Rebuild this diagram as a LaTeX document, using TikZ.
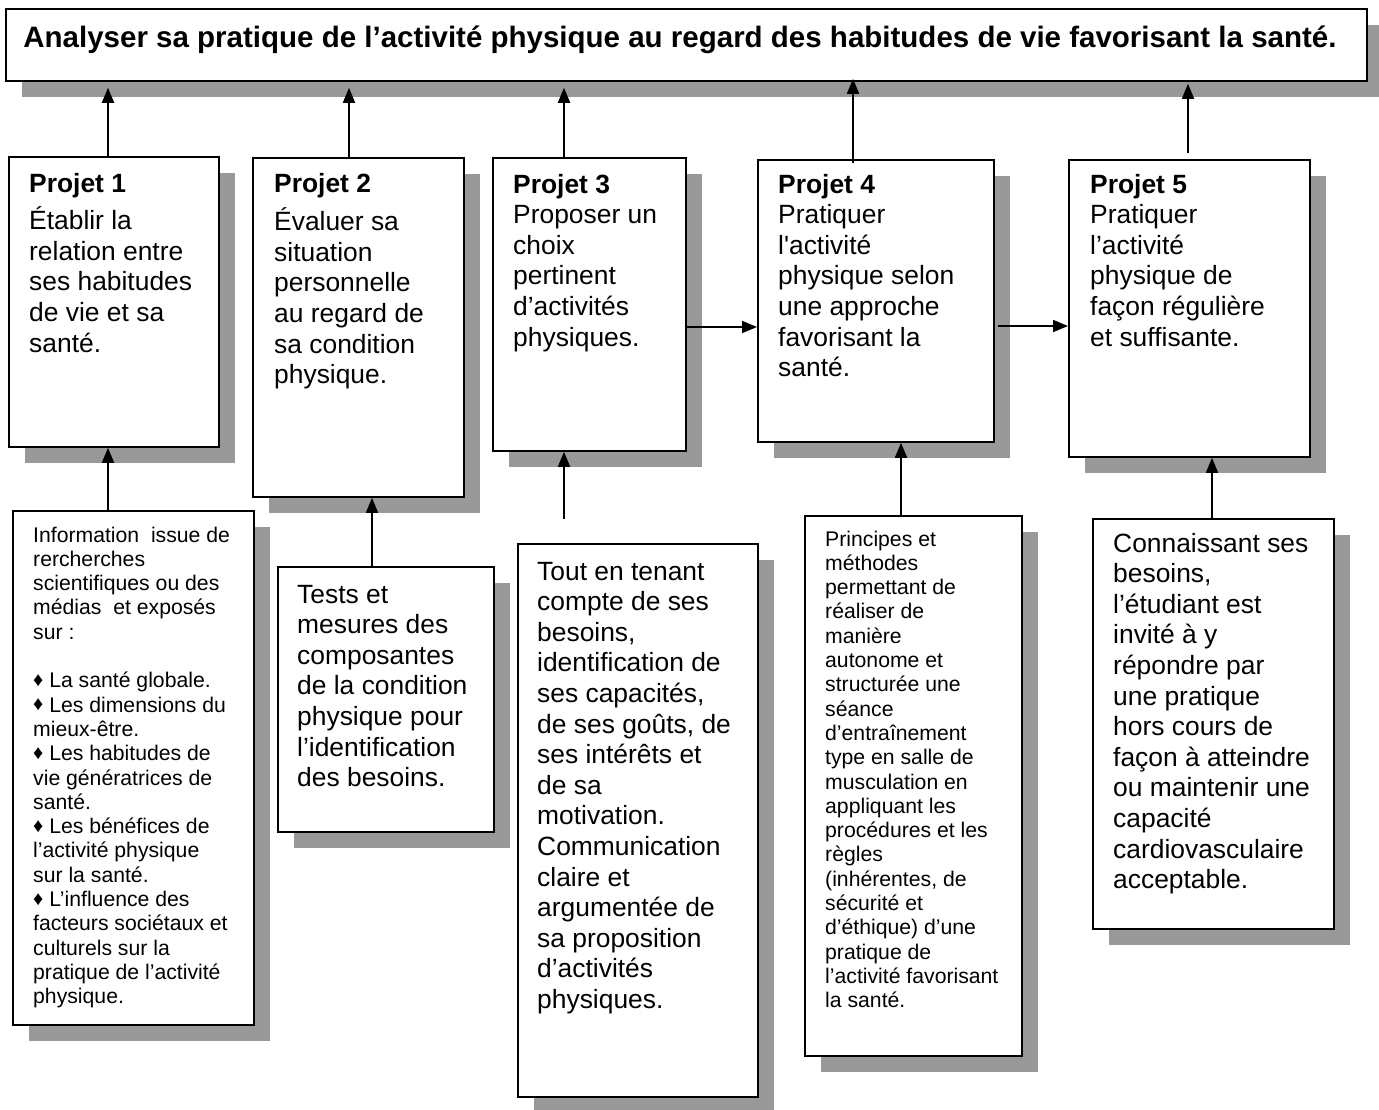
\documentclass[tikz,border=0pt]{standalone}
\usepackage{fontspec}
\setmainfont{Liberation Sans}
\usetikzlibrary{arrows.meta,shadows,calc}
\definecolor{shadowc}{RGB}{153,153,153}
\newcommand\LgFont{\fontsize{26.4pt}{30.6pt}\selectfont}
\newcommand\SmFont{\fontsize{21.2pt}{24.3pt}\selectfont}
\newcommand\dmd{\raisebox{1.5pt}{\fontsize{20pt}{20pt}\selectfont ♦}}
\begin{document}
\begin{tikzpicture}[x=1pt,y=-1pt,
  boxs/.style={draw, line width=1.8pt, fill=white, inner sep=0pt, anchor=north west,
    drop shadow={shadow xshift=16.5pt, shadow yshift=-16.5pt, fill=shadowc, opacity=1}},
  txt/.style={anchor=base west, inner sep=0pt},
  arr/.style={line width=1.8pt, -{Triangle[length=15pt,width=12pt]}}]
\useasboundingbox[fill=white] (0,0) rectangle (1379,1109);

% boxes
\node[boxs, minimum width=1361pt, minimum height=72pt] (title) at (5,8) {};
\node[boxs, minimum width=210pt, minimum height=290pt] (p1) at (8,156) {};
\node[boxs, minimum width=211pt, minimum height=339pt] (p2) at (252,157) {};
\node[boxs, minimum width=193pt, minimum height=293pt] (p3) at (492,157) {};
\node[boxs, minimum width=236pt, minimum height=282pt] (p4) at (757,159) {};
\node[boxs, minimum width=241pt, minimum height=297pt] (p5) at (1068,159) {};
\node[boxs, minimum width=241pt, minimum height=514pt] (b1) at (12,510) {};
\node[boxs, minimum width=216pt, minimum height=265pt] (b2) at (277,566) {};
\node[boxs, minimum width=240pt, minimum height=553pt] (b3) at (517,543) {};
\node[boxs, minimum width=217pt, minimum height=540pt] (b4) at (804,515) {};
\node[boxs, minimum width=241pt, minimum height=410pt] (b5) at (1092,518) {};

% texts
\node[anchor=base, inner sep=0pt] (tt) at (680,47)
  {\fontsize{29.5pt}{32pt}\selectfont\bfseries Analyser sa pratique de l’activité physique au regard des habitudes de vie favorisant la santé.};

\node[txt] (t1) at (29,192) {\parbox[t]{300pt}{\LgFont\textbf{Projet 1}\\[7pt]Établir la\\relation entre\\ses habitudes\\de vie et sa\\santé.}};
\node[txt] (t2) at (274,192) {\parbox[t]{300pt}{\LgFont\textbf{Projet 2}\\[8pt]Évaluer sa\\situation\\personnelle\\au regard de\\sa condition\\physique.}};
\node[txt] (t3) at (513,193) {\parbox[t]{300pt}{\LgFont\textbf{Projet 3}\\Proposer un\\choix\\pertinent\\d’activités\\physiques.}};
\node[txt] (t4) at (778,193) {\parbox[t]{300pt}{\LgFont\textbf{Projet 4}\\Pratiquer\\l\textquotesingle activité\\physique selon\\une approche\\favorisant la\\santé.}};
\node[txt] (t5) at (1090,193) {\parbox[t]{300pt}{\LgFont\textbf{Projet 5}\\Pratiquer\\l’activité\\physique de\\façon régulière\\et suffisante.}};

\node[txt] (s1) at (33,542) {\parbox[t]{300pt}{\SmFont Information\ \ issue de\\rercherches\\scientifiques ou des\\médias\ \ et exposés\\sur :\\\mbox{}\\\dmd\ La santé globale.\\\dmd\ Les dimensions du\\mieux-être.\\\dmd\ Les habitudes de\\vie génératrices de\\santé.\\\dmd\ Les bénéfices de\\l’activité physique\\sur la santé.\\\dmd\ L’influence des\\facteurs sociétaux et\\culturels sur la\\pratique de l’activité\\physique.}};
\node[txt] (s2) at (297,603) {\parbox[t]{300pt}{\LgFont Tests et\\mesures des\\composantes\\de la condition\\physique pour\\l’identification\\des besoins.}};
\node[txt] (s3) at (537,580) {\parbox[t]{300pt}{\LgFont Tout en tenant\\compte de ses\\besoins,\\identification de\\ses capacités,\\de ses goûts, de\\ses intérêts et\\de sa\\motivation.\\Communication\\claire et\\argumentée de\\sa proposition\\d’activités\\physiques.}};
\node[txt] (s4) at (825,546) {\parbox[t]{300pt}{\SmFont Principes et\\méthodes\\permettant de\\réaliser de\\manière\\autonome et\\structurée une\\séance\\d’entraînement\\type en salle de\\musculation en\\appliquant les\\procédures et les\\règles\\(inhérentes, de\\sécurité et\\d’éthique) d’une\\pratique de\\l’activité favorisant\\la santé.}};
\node[txt] (s5) at (1113,552) {\parbox[t]{300pt}{\LgFont Connaissant ses\\besoins,\\l’étudiant est\\invité à y\\répondre par\\une pratique\\hors cours de\\façon à atteindre\\ou maintenir une\\capacité\\cardiovasculaire\\acceptable.}};

% connector columns
\coordinate (a1) at (108,0);
\coordinate (a2) at (349,0);
\coordinate (a3) at (564,0);
\coordinate (a4) at (853,0);
\coordinate (a5) at (1188,0);
\coordinate (d2) at (372,0);
\coordinate (d4) at (901,0);
\coordinate (d5) at (1212,0);
\coordinate (h1) at (0,327);
\coordinate (h2) at (0,326);

% arrows to title
\draw[arr, shorten >=6pt] (p1.north -| a1) -- (title.south -| a1);
\draw[arr, shorten >=6pt] (p2.north -| a2) -- (title.south -| a2);
\draw[arr, shorten >=6pt] (p3.north -| a3) -- (title.south -| a3);
\draw[arr, shorten <=-4pt, shorten >=-3pt] (p4.north -| a4) -- (title.south -| a4);
\draw[arr, shorten <=6pt, shorten >=2pt] (p5.north -| a5) -- (title.south -| a5);

% arrows from bottom boxes
\draw[arr] (b1.north -| a1) -- (p1.south -| a1);
\draw[arr] (b2.north -| d2) -- (p2.south -| d2);
\draw[arr, shorten <=24pt] (b3.north -| a3) -- (p3.south -| a3);
\draw[arr] (b4.north -| d4) -- (p4.south -| d4);
\draw[arr] (b5.north -| d5) -- (p5.south -| d5);

% horizontal arrows
\draw[arr] (p3.east |- h1) -- (p4.west |- h1);
\draw[arr, shorten <=3pt] (p4.east |- h2) -- (p5.west |- h2);
\end{tikzpicture}
\end{document}
